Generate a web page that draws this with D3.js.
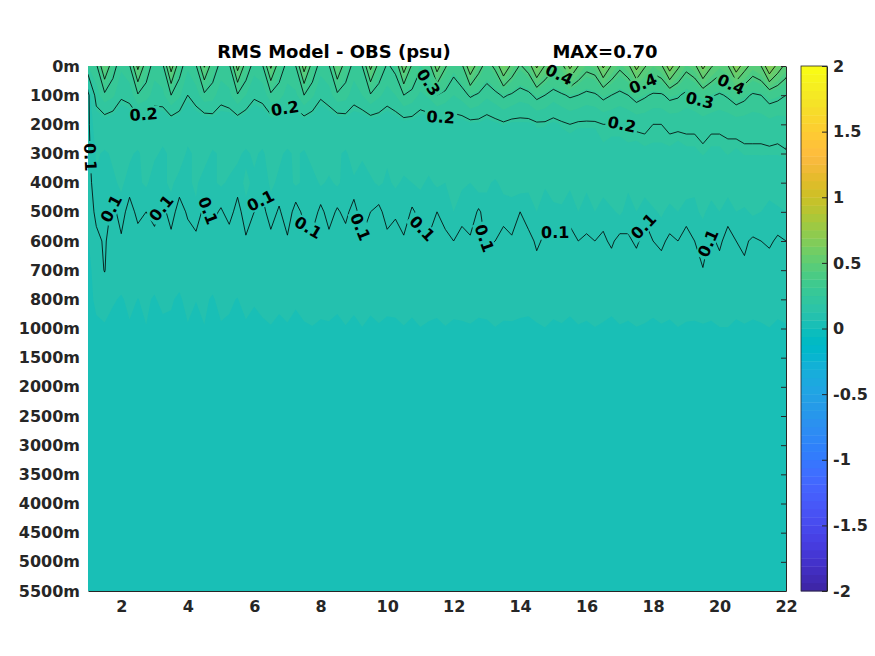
<!DOCTYPE html>
<html>
<head>
<meta charset="utf-8">
<script src="https://cdn.jsdelivr.net/npm/d3@7"></script>
<style>
  body { margin: 0; background: #fff; }
  text { font-family: "DejaVu Sans", sans-serif; font-weight: bold; }
</style>
</head>
<body>
<svg id="chart"></svg>
<script>
// time axis (years, quarter-year samples) and depth levels
const years = [1, 1.25, 1.5, 1.75, 2, 2.25, 2.5, 2.75, 3, 3.25, 3.5, 3.75, 4, 4.25, 4.5, 4.75, 5,
  5.25, 5.5, 5.75, 6, 6.25, 6.5, 6.75, 7, 7.25, 7.5, 7.75, 8, 8.25, 8.5, 8.75, 9, 9.25,
  9.5, 9.75, 10, 10.25, 10.5, 10.75, 11, 11.25, 11.5, 11.75, 12, 12.25, 12.5, 12.75, 13, 13.25, 13.5,
  13.75, 14, 14.25, 14.5, 14.75, 15, 15.25, 15.5, 15.75, 16, 16.25, 16.5, 16.75, 17, 17.25, 17.5, 17.75,
  18, 18.25, 18.5, 18.75, 19, 19.25, 19.5, 19.75, 20, 20.25, 20.5, 20.75, 21, 21.25, 21.5, 21.75, 22];
const depthLabels = ['0m', '100m', '200m', '300m', '400m', '500m', '600m', '700m', '800m', '1000m',
  '1500m', '2000m', '2500m', '3000m', '3500m', '4000m', '4500m', '5000m', '5500m'];
const xTicks = [2, 4, 6, 8, 10, 12, 14, 16, 18, 20, 22];
const colorTicks = [-2, -1.5, -1, -0.5, 0, 0.5, 1, 1.5, 2];
const contourLevels = [0.1, 0.2, 0.3, 0.4, 0.5, 0.6];

// RMS (psu) per depth level, one value per time sample
const rms0m = [0.25,
  0.28, 0.50, 0.33, 0.26, 0.29, 0.53, 0.34, 0.27, 0.28, 0.55, 0.33, 0.26, 0.29, 0.51, 0.34, 0.28, 0.28, 0.54, 0.35, 0.27,
  0.29, 0.52, 0.34, 0.28, 0.30, 0.55, 0.35, 0.27, 0.29, 0.50, 0.34, 0.28, 0.30, 0.53, 0.36, 0.29, 0.32, 0.56, 0.38, 0.31,
  0.35, 0.55, 0.41, 0.33, 0.38, 0.58, 0.44, 0.36, 0.42, 0.60, 0.47, 0.39, 0.44, 0.62, 0.49, 0.42, 0.46, 0.63, 0.50, 0.43,
  0.45, 0.62, 0.49, 0.42, 0.47, 0.64, 0.51, 0.44, 0.48, 0.66, 0.52, 0.43, 0.47, 0.63, 0.51, 0.45, 0.49, 0.67, 0.54, 0.46,
  0.50, 0.70, 0.56, 0.47];
const rms100m = [0.08,
  0.23, 0.28, 0.26, 0.21, 0.22, 0.29, 0.27, 0.23, 0.24, 0.30, 0.26, 0.20, 0.23, 0.28, 0.27, 0.22, 0.24, 0.29, 0.25, 0.21,
  0.22, 0.28, 0.27, 0.23, 0.24, 0.30, 0.26, 0.21, 0.23, 0.28, 0.27, 0.22, 0.25, 0.29, 0.26, 0.23, 0.25, 0.30, 0.28, 0.24,
  0.26, 0.30, 0.28, 0.25, 0.27, 0.31, 0.29, 0.26, 0.28, 0.31, 0.29, 0.27, 0.28, 0.32, 0.30, 0.27, 0.29, 0.31, 0.30, 0.28,
  0.29, 0.32, 0.30, 0.28, 0.30, 0.33, 0.31, 0.29, 0.29, 0.32, 0.31, 0.28, 0.30, 0.33, 0.31, 0.29, 0.31, 0.34, 0.32, 0.29,
  0.30, 0.33, 0.32, 0.30];
const rms200m = [0.09,
  0.15, 0.16, 0.15, 0.14, 0.15, 0.16, 0.16, 0.15, 0.14, 0.16, 0.15, 0.14, 0.15, 0.15, 0.16, 0.16, 0.15, 0.16, 0.15, 0.14,
  0.15, 0.16, 0.16, 0.15, 0.15, 0.16, 0.15, 0.14, 0.15, 0.15, 0.16, 0.16, 0.15, 0.16, 0.16, 0.15, 0.16, 0.17, 0.17, 0.16,
  0.16, 0.17, 0.17, 0.17, 0.17, 0.18, 0.18, 0.17, 0.18, 0.19, 0.18, 0.18, 0.18, 0.19, 0.19, 0.18, 0.19, 0.20, 0.19, 0.19,
  0.19, 0.20, 0.20, 0.20, 0.20, 0.21, 0.21, 0.20, 0.20, 0.21, 0.21, 0.21, 0.21, 0.22, 0.21, 0.21, 0.21, 0.22, 0.22, 0.22,
  0.22, 0.23, 0.22, 0.23];
const rms300m = [0.09,
  0.13, 0.12, 0.13, 0.14, 0.13, 0.12, 0.14, 0.13, 0.12, 0.13, 0.14, 0.12, 0.13, 0.14, 0.12, 0.13, 0.14, 0.13, 0.12, 0.13,
  0.12, 0.14, 0.13, 0.12, 0.13, 0.12, 0.14, 0.13, 0.14, 0.13, 0.12, 0.14, 0.13, 0.14, 0.13, 0.13, 0.14, 0.14, 0.15, 0.14,
  0.14, 0.15, 0.14, 0.15, 0.15, 0.15, 0.16, 0.15, 0.16, 0.15, 0.16, 0.16, 0.16, 0.17, 0.16, 0.16, 0.17, 0.16, 0.17, 0.17,
  0.17, 0.18, 0.17, 0.17, 0.18, 0.17, 0.18, 0.18, 0.18, 0.18, 0.17, 0.18, 0.18, 0.19, 0.18, 0.18, 0.19, 0.18, 0.19, 0.19,
  0.19, 0.19, 0.19, 0.195];
const rms400m = [0.085,
  0.12, 0.11, 0.12, 0.13, 0.115, 0.12, 0.13, 0.11, 0.12, 0.13, 0.115, 0.12, 0.13, 0.11, 0.12, 0.13, 0.12, 0.115, 0.13, 0.12,
  0.11, 0.13, 0.12, 0.115, 0.13, 0.12, 0.11, 0.13, 0.12, 0.13, 0.115, 0.12, 0.11, 0.12, 0.13, 0.12, 0.13, 0.12, 0.125, 0.13,
  0.12, 0.13, 0.125, 0.13, 0.13, 0.125, 0.14, 0.13, 0.12, 0.135, 0.13, 0.14, 0.13, 0.14, 0.13, 0.135, 0.14, 0.13, 0.14, 0.13,
  0.135, 0.14, 0.15, 0.14, 0.13, 0.14, 0.145, 0.15, 0.14, 0.15, 0.14, 0.145, 0.13, 0.15, 0.14, 0.15, 0.14, 0.145, 0.15, 0.14,
  0.15, 0.14, 0.145, 0.15];
const rms500m = [0.075,
  0.11, 0.12, 0.09, 0.115, 0.085, 0.11, 0.10, 0.12, 0.09, 0.115, 0.085, 0.105, 0.12, 0.09, 0.11, 0.095, 0.115, 0.085, 0.12, 0.10,
  0.09, 0.115, 0.095, 0.12, 0.085, 0.11, 0.12, 0.09, 0.115, 0.095, 0.11, 0.085, 0.12, 0.10, 0.09, 0.115, 0.105, 0.12, 0.095, 0.11,
  0.12, 0.10, 0.115, 0.125, 0.11, 0.12, 0.095, 0.115, 0.125, 0.11, 0.12, 0.10, 0.115, 0.125, 0.105, 0.12, 0.12, 0.11, 0.125, 0.115,
  0.125, 0.11, 0.12, 0.13, 0.115, 0.125, 0.105, 0.12, 0.13, 0.115, 0.125, 0.11, 0.12, 0.13, 0.115, 0.125, 0.11, 0.125, 0.12, 0.13,
  0.125, 0.115, 0.12, 0.125];
const rms600m = [0.06,
  0.09, 0.105, 0.08, 0.095, 0.075, 0.085, 0.09, 0.08, 0.085, 0.09, 0.075, 0.085, 0.09, 0.08, 0.085, 0.075, 0.08, 0.075, 0.095, 0.085,
  0.085, 0.09, 0.08, 0.095, 0.075, 0.085, 0.09, 0.08, 0.09, 0.08, 0.085, 0.075, 0.095, 0.085, 0.08, 0.09, 0.085, 0.095, 0.08, 0.09,
  0.095, 0.085, 0.09, 0.10, 0.09, 0.095, 0.085, 0.105, 0.10, 0.09, 0.095, 0.085, 0.09, 0.105, 0.095, 0.09, 0.095, 0.09, 0.10, 0.095,
  0.10, 0.095, 0.105, 0.09, 0.095, 0.105, 0.09, 0.10, 0.105, 0.095, 0.10, 0.09, 0.10, 0.11, 0.095, 0.105, 0.09, 0.10, 0.105, 0.095,
  0.10, 0.105, 0.095, 0.10];
const rms700m = [0.05,
  0.08, 0.102, 0.07, 0.075, 0.07, 0.075, 0.07, 0.075, 0.075, 0.07, 0.07, 0.075, 0.07, 0.075, 0.075, 0.07, 0.075, 0.07, 0.075, 0.07,
  0.07, 0.075, 0.07, 0.075, 0.075, 0.07, 0.075, 0.07, 0.07, 0.075, 0.075, 0.07, 0.075, 0.08, 0.07, 0.075, 0.08, 0.075, 0.08, 0.075,
  0.08, 0.075, 0.08, 0.085, 0.08, 0.085, 0.08, 0.085, 0.085, 0.08, 0.085, 0.08, 0.085, 0.09, 0.085, 0.08, 0.085, 0.08, 0.085, 0.09,
  0.085, 0.09, 0.085, 0.08, 0.09, 0.085, 0.08, 0.085, 0.09, 0.085, 0.09, 0.085, 0.09, 0.099, 0.085, 0.09, 0.085, 0.09, 0.095, 0.085,
  0.09, 0.085, 0.09, 0.085];
const rms800m = [0.05,
  0.07, 0.072, 0.065, 0.06, 0.068, 0.062, 0.066, 0.06, 0.07, 0.064, 0.06, 0.068, 0.063, 0.066, 0.06, 0.07, 0.064, 0.062, 0.068, 0.065,
  0.07, 0.066, 0.068, 0.072, 0.066, 0.07, 0.068, 0.072, 0.07, 0.068, 0.074, 0.07, 0.072, 0.068, 0.074, 0.07, 0.072, 0.075, 0.07, 0.072,
  0.07, 0.074, 0.068, 0.072, 0.075, 0.07, 0.072, 0.068, 0.072, 0.075, 0.07, 0.074, 0.07, 0.072, 0.075, 0.07, 0.074, 0.07, 0.072, 0.075,
  0.072, 0.075, 0.07, 0.072, 0.075, 0.07, 0.074, 0.072, 0.07, 0.075, 0.072, 0.074, 0.072, 0.07, 0.075, 0.072, 0.074, 0.072, 0.07, 0.075,
  0.072, 0.075, 0.072, 0.07];
const rms1000m = [0.05,
  0.056, 0.06, 0.055, 0.058, 0.06, 0.056, 0.062, 0.057, 0.055, 0.06, 0.058, 0.061, 0.057, 0.062, 0.056, 0.06, 0.061, 0.057, 0.06, 0.055,
  0.058, 0.062, 0.057, 0.06, 0.056, 0.06, 0.062, 0.058, 0.06, 0.057, 0.061, 0.056, 0.062, 0.058, 0.06, 0.057, 0.057, 0.061, 0.058, 0.062,
  0.06, 0.056, 0.062, 0.058, 0.058, 0.061, 0.057, 0.06, 0.062, 0.058, 0.06, 0.056, 0.057, 0.06, 0.062, 0.059, 0.06, 0.057, 0.061, 0.058,
  0.062, 0.059, 0.057, 0.061, 0.058, 0.062, 0.06, 0.057, 0.061, 0.057, 0.062, 0.059, 0.059, 0.061, 0.058, 0.062, 0.062, 0.058, 0.061, 0.057,
  0.06, 0.062, 0.058, 0.061];
const rms1500m = [
  0.042, 0.042, 0.042, 0.042, 0.042, 0.042, 0.042, 0.042, 0.042, 0.042, 0.042, 0.042, 0.042, 0.042, 0.042, 0.042, 0.042,
  0.042, 0.042, 0.042, 0.042, 0.042, 0.042, 0.042, 0.042, 0.042, 0.042, 0.042, 0.042, 0.042, 0.042, 0.042, 0.042, 0.042,
  0.042, 0.042, 0.042, 0.042, 0.042, 0.042, 0.042, 0.042, 0.042, 0.042, 0.042, 0.042, 0.042, 0.042, 0.042, 0.042, 0.042,
  0.042, 0.042, 0.042, 0.042, 0.042, 0.042, 0.042, 0.042, 0.042, 0.042, 0.042, 0.042, 0.042, 0.042, 0.042, 0.042, 0.042,
  0.042, 0.042, 0.042, 0.042, 0.042, 0.042, 0.042, 0.042, 0.042, 0.042, 0.042, 0.042, 0.042, 0.042, 0.042, 0.042, 0.042];
const rms2000m = [
  0.036, 0.036, 0.036, 0.036, 0.036, 0.036, 0.036, 0.036, 0.036, 0.036, 0.036, 0.036, 0.036, 0.036, 0.036, 0.036, 0.036,
  0.036, 0.036, 0.036, 0.036, 0.036, 0.036, 0.036, 0.036, 0.036, 0.036, 0.036, 0.036, 0.036, 0.036, 0.036, 0.036, 0.036,
  0.036, 0.036, 0.036, 0.036, 0.036, 0.036, 0.036, 0.036, 0.036, 0.036, 0.036, 0.036, 0.036, 0.036, 0.036, 0.036, 0.036,
  0.036, 0.036, 0.036, 0.036, 0.036, 0.036, 0.036, 0.036, 0.036, 0.036, 0.036, 0.036, 0.036, 0.036, 0.036, 0.036, 0.036,
  0.036, 0.036, 0.036, 0.036, 0.036, 0.036, 0.036, 0.036, 0.036, 0.036, 0.036, 0.036, 0.036, 0.036, 0.036, 0.036, 0.036];
const rms2500m = [
  0.032, 0.032, 0.032, 0.032, 0.032, 0.032, 0.032, 0.032, 0.032, 0.032, 0.032, 0.032, 0.032, 0.032, 0.032, 0.032, 0.032,
  0.032, 0.032, 0.032, 0.032, 0.032, 0.032, 0.032, 0.032, 0.032, 0.032, 0.032, 0.032, 0.032, 0.032, 0.032, 0.032, 0.032,
  0.032, 0.032, 0.032, 0.032, 0.032, 0.032, 0.032, 0.032, 0.032, 0.032, 0.032, 0.032, 0.032, 0.032, 0.032, 0.032, 0.032,
  0.032, 0.032, 0.032, 0.032, 0.032, 0.032, 0.032, 0.032, 0.032, 0.032, 0.032, 0.032, 0.032, 0.032, 0.032, 0.032, 0.032,
  0.032, 0.032, 0.032, 0.032, 0.032, 0.032, 0.032, 0.032, 0.032, 0.032, 0.032, 0.032, 0.032, 0.032, 0.032, 0.032, 0.032];
const rms3000m = [
  0.03, 0.03, 0.03, 0.03, 0.03, 0.03, 0.03, 0.03, 0.03, 0.03, 0.03, 0.03, 0.03, 0.03, 0.03, 0.03, 0.03,
  0.03, 0.03, 0.03, 0.03, 0.03, 0.03, 0.03, 0.03, 0.03, 0.03, 0.03, 0.03, 0.03, 0.03, 0.03, 0.03, 0.03,
  0.03, 0.03, 0.03, 0.03, 0.03, 0.03, 0.03, 0.03, 0.03, 0.03, 0.03, 0.03, 0.03, 0.03, 0.03, 0.03, 0.03,
  0.03, 0.03, 0.03, 0.03, 0.03, 0.03, 0.03, 0.03, 0.03, 0.03, 0.03, 0.03, 0.03, 0.03, 0.03, 0.03, 0.03,
  0.03, 0.03, 0.03, 0.03, 0.03, 0.03, 0.03, 0.03, 0.03, 0.03, 0.03, 0.03, 0.03, 0.03, 0.03, 0.03, 0.03];
const rms3500m = [
  0.028, 0.028, 0.028, 0.028, 0.028, 0.028, 0.028, 0.028, 0.028, 0.028, 0.028, 0.028, 0.028, 0.028, 0.028, 0.028, 0.028,
  0.028, 0.028, 0.028, 0.028, 0.028, 0.028, 0.028, 0.028, 0.028, 0.028, 0.028, 0.028, 0.028, 0.028, 0.028, 0.028, 0.028,
  0.028, 0.028, 0.028, 0.028, 0.028, 0.028, 0.028, 0.028, 0.028, 0.028, 0.028, 0.028, 0.028, 0.028, 0.028, 0.028, 0.028,
  0.028, 0.028, 0.028, 0.028, 0.028, 0.028, 0.028, 0.028, 0.028, 0.028, 0.028, 0.028, 0.028, 0.028, 0.028, 0.028, 0.028,
  0.028, 0.028, 0.028, 0.028, 0.028, 0.028, 0.028, 0.028, 0.028, 0.028, 0.028, 0.028, 0.028, 0.028, 0.028, 0.028, 0.028];
const rms4000m = [
  0.026, 0.026, 0.026, 0.026, 0.026, 0.026, 0.026, 0.026, 0.026, 0.026, 0.026, 0.026, 0.026, 0.026, 0.026, 0.026, 0.026,
  0.026, 0.026, 0.026, 0.026, 0.026, 0.026, 0.026, 0.026, 0.026, 0.026, 0.026, 0.026, 0.026, 0.026, 0.026, 0.026, 0.026,
  0.026, 0.026, 0.026, 0.026, 0.026, 0.026, 0.026, 0.026, 0.026, 0.026, 0.026, 0.026, 0.026, 0.026, 0.026, 0.026, 0.026,
  0.026, 0.026, 0.026, 0.026, 0.026, 0.026, 0.026, 0.026, 0.026, 0.026, 0.026, 0.026, 0.026, 0.026, 0.026, 0.026, 0.026,
  0.026, 0.026, 0.026, 0.026, 0.026, 0.026, 0.026, 0.026, 0.026, 0.026, 0.026, 0.026, 0.026, 0.026, 0.026, 0.026, 0.026];
const rms4500m = [
  0.025, 0.025, 0.025, 0.025, 0.025, 0.025, 0.025, 0.025, 0.025, 0.025, 0.025, 0.025, 0.025, 0.025, 0.025, 0.025, 0.025,
  0.025, 0.025, 0.025, 0.025, 0.025, 0.025, 0.025, 0.025, 0.025, 0.025, 0.025, 0.025, 0.025, 0.025, 0.025, 0.025, 0.025,
  0.025, 0.025, 0.025, 0.025, 0.025, 0.025, 0.025, 0.025, 0.025, 0.025, 0.025, 0.025, 0.025, 0.025, 0.025, 0.025, 0.025,
  0.025, 0.025, 0.025, 0.025, 0.025, 0.025, 0.025, 0.025, 0.025, 0.025, 0.025, 0.025, 0.025, 0.025, 0.025, 0.025, 0.025,
  0.025, 0.025, 0.025, 0.025, 0.025, 0.025, 0.025, 0.025, 0.025, 0.025, 0.025, 0.025, 0.025, 0.025, 0.025, 0.025, 0.025];
const rms5000m = [
  0.024, 0.024, 0.024, 0.024, 0.024, 0.024, 0.024, 0.024, 0.024, 0.024, 0.024, 0.024, 0.024, 0.024, 0.024, 0.024, 0.024,
  0.024, 0.024, 0.024, 0.024, 0.024, 0.024, 0.024, 0.024, 0.024, 0.024, 0.024, 0.024, 0.024, 0.024, 0.024, 0.024, 0.024,
  0.024, 0.024, 0.024, 0.024, 0.024, 0.024, 0.024, 0.024, 0.024, 0.024, 0.024, 0.024, 0.024, 0.024, 0.024, 0.024, 0.024,
  0.024, 0.024, 0.024, 0.024, 0.024, 0.024, 0.024, 0.024, 0.024, 0.024, 0.024, 0.024, 0.024, 0.024, 0.024, 0.024, 0.024,
  0.024, 0.024, 0.024, 0.024, 0.024, 0.024, 0.024, 0.024, 0.024, 0.024, 0.024, 0.024, 0.024, 0.024, 0.024, 0.024, 0.024];
const rms5500m = [
  0.022, 0.022, 0.022, 0.022, 0.022, 0.022, 0.022, 0.022, 0.022, 0.022, 0.022, 0.022, 0.022, 0.022, 0.022, 0.022, 0.022,
  0.022, 0.022, 0.022, 0.022, 0.022, 0.022, 0.022, 0.022, 0.022, 0.022, 0.022, 0.022, 0.022, 0.022, 0.022, 0.022, 0.022,
  0.022, 0.022, 0.022, 0.022, 0.022, 0.022, 0.022, 0.022, 0.022, 0.022, 0.022, 0.022, 0.022, 0.022, 0.022, 0.022, 0.022,
  0.022, 0.022, 0.022, 0.022, 0.022, 0.022, 0.022, 0.022, 0.022, 0.022, 0.022, 0.022, 0.022, 0.022, 0.022, 0.022, 0.022,
  0.022, 0.022, 0.022, 0.022, 0.022, 0.022, 0.022, 0.022, 0.022, 0.022, 0.022, 0.022, 0.022, 0.022, 0.022, 0.022, 0.022];

const grid = [rms0m, rms100m, rms200m, rms300m, rms400m, rms500m, rms600m, rms700m, rms800m, rms1000m,
  rms1500m, rms2000m, rms2500m, rms3000m, rms3500m, rms4000m, rms4500m, rms5000m, rms5500m];
grid.forEach((row, i) => {
  if (row.length !== years.length) throw new Error(depthLabels[i] + ' row has ' + row.length + ' values');
});

// parula colormap, 64 entries
const parula = [
  [0.2422, 0.1504, 0.6603], [0.2504, 0.1650, 0.7076], [0.2578, 0.1818, 0.7511], [0.2647, 0.1978, 0.7952],
  [0.2706, 0.2147, 0.8364], [0.2751, 0.2342, 0.8710], [0.2783, 0.2559, 0.8991], [0.2803, 0.2782, 0.9221],
  [0.2813, 0.3006, 0.9414], [0.2810, 0.3228, 0.9579], [0.2795, 0.3447, 0.9717], [0.2760, 0.3667, 0.9829],
  [0.2699, 0.3892, 0.9906], [0.2602, 0.4123, 0.9952], [0.2440, 0.4358, 0.9988], [0.2206, 0.4603, 0.9973],
  [0.1963, 0.4847, 0.9892], [0.1834, 0.5074, 0.9798], [0.1786, 0.5289, 0.9682], [0.1764, 0.5499, 0.9520],
  [0.1687, 0.5703, 0.9359], [0.1540, 0.5902, 0.9218], [0.1460, 0.6091, 0.9079], [0.1380, 0.6276, 0.8973],
  [0.1248, 0.6459, 0.8883], [0.1113, 0.6635, 0.8763], [0.0952, 0.6798, 0.8598], [0.0689, 0.6948, 0.8394],
  [0.0297, 0.7082, 0.8163], [0.0036, 0.7203, 0.7917], [0.0067, 0.7312, 0.7660], [0.0433, 0.7411, 0.7394],
  [0.0964, 0.7500, 0.7120], [0.1408, 0.7584, 0.6842], [0.1717, 0.7670, 0.6554], [0.1938, 0.7758, 0.6251],
  [0.2161, 0.7843, 0.5923], [0.2470, 0.7918, 0.5567], [0.2906, 0.7973, 0.5188], [0.3406, 0.8008, 0.4789],
  [0.3909, 0.8029, 0.4354], [0.4456, 0.8024, 0.3909], [0.5044, 0.7993, 0.3480], [0.5616, 0.7942, 0.3045],
  [0.6174, 0.7876, 0.2612], [0.6720, 0.7793, 0.2227], [0.7242, 0.7698, 0.1910], [0.7738, 0.7598, 0.1646],
  [0.8203, 0.7498, 0.1535], [0.8634, 0.7406, 0.1596], [0.9035, 0.7330, 0.1774], [0.9393, 0.7288, 0.2100],
  [0.9728, 0.7298, 0.2394], [0.9956, 0.7434, 0.2371], [0.9970, 0.7659, 0.2199], [0.9952, 0.7893, 0.2028],
  [0.9892, 0.8136, 0.1885], [0.9786, 0.8386, 0.1766], [0.9676, 0.8639, 0.1643], [0.9610, 0.8890, 0.1537],
  [0.9597, 0.9135, 0.1423], [0.9628, 0.9373, 0.1265], [0.9691, 0.9606, 0.1064], [0.9769, 0.9839, 0.0805]
].map(c => d3.rgb(c[0] * 255, c[1] * 255, c[2] * 255).formatHex());

const width = 875, height = 656;
const plotL = 88, plotR = 786, plotT = 66, plotB = 591;
const cmin = -2, cmax = 2, nColors = parula.length;
const bandW = (cmax - cmin) / nColors;
const bandEdges = d3.range(nColors + 1).map(i => cmin + i * bandW);

const svg = d3.select('#chart').attr('width', width).attr('height', height);

const x = d3.scaleLinear().domain([years[0], years[years.length - 1]]).range([plotL, plotR]);
const yPos = d3.scalePoint().domain(depthLabels).range([plotT, plotB]);
const yIdx = d3.scaleLinear().domain([0, depthLabels.length - 1]).range([plotT, plotB]);

// grid coords from d3.contours (sample i sits at i + 0.5) -> pixels
const step = years[1] - years[0];
const toPx = (gx, gy) => [x(years[0] + (gx - 0.5) * step), yIdx(gy - 0.5)];
const path = d3.geoPath(d3.geoTransform({
  point(a, b) { const p = toPx(a, b); this.stream.point(p[0], p[1]); }
}));

const values = grid.flat();
const vmin = d3.min(values), vmax = d3.max(values);
const contourGen = d3.contours().size([years.length, depthLabels.length]);

svg.append('clipPath').attr('id', 'plotClip')
  .append('rect').attr('x', plotL).attr('y', plotT)
  .attr('width', plotR - plotL).attr('height', plotB - plotT);

// filled colour bands, one per colormap entry
const iMin = Math.floor((vmin - cmin) / bandW);
const iMax = Math.min(nColors - 1, Math.floor((vmax - cmin) / bandW));
const fillTh = d3.range(iMin, iMax + 1).map(i => (i === iMin ? vmin - 1 : bandEdges[i]));
const fills = contourGen.thresholds(fillTh)(values);

const plot = svg.append('g').attr('clip-path', 'url(#plotClip)');
plot.selectAll('path.band')
  .data(fills)
  .join('path')
  .attr('class', 'band')
  .attr('d', path)
  .attr('fill', (d, k) => parula[iMin + k]);

// contour lines
const lines = contourGen.thresholds(contourLevels)(values);
const mask = svg.append('mask').attr('id', 'labelMask')
  .attr('maskUnits', 'userSpaceOnUse')
  .attr('x', 0).attr('y', 0).attr('width', width).attr('height', height);
mask.append('rect').attr('width', width).attr('height', height).attr('fill', '#fff');

plot.append('g').attr('mask', 'url(#labelMask)')
  .selectAll('path.cline')
  .data(lines)
  .join('path')
  .attr('class', 'cline')
  .attr('d', path)
  .attr('fill', 'none')
  .attr('stroke', '#000')
  .attr('stroke-width', 0.8);

// inline contour labels placed along each line (0.4 before 0.3 so both fit near the top)
const labelSpacing = { '0.1': 155, '0.2': 190, '0.4': 120, '0.3': 170 };
const labelG = svg.append('g');
const placed = [];
const inside = p => p[0] > plotL + 1 && p[0] < plotR - 1 && p[1] > plotT + 1 && p[1] < plotB - 1;

Object.keys(labelSpacing).forEach(key => {
  const c = lines.find(l => l.value.toFixed(1) === key);
  if (!c) return;
  const spacing = labelSpacing[key];
  const runs = [];
  c.coordinates.forEach(poly => poly.forEach(ring => {
    let run = [];
    ring.forEach(([a, b]) => {
      const p = toPx(a, b);
      if (inside(p)) run.push(p);
      else { if (run.length > 1) runs.push(run); run = []; }
    });
    if (run.length > 1) runs.push(run);
  }));
  runs.forEach(run => {
    const cum = [0];
    for (let i = 1; i < run.length; i++) {
      cum.push(cum[i - 1] + Math.hypot(run[i][0] - run[i - 1][0], run[i][1] - run[i - 1][1]));
    }
    const L = cum[cum.length - 1];
    if (L < 110) return;
    const at = s => {
      s = Math.max(0, Math.min(L, s));
      let i = d3.bisectLeft(cum, s);
      if (i < 1) i = 1;
      const t = (s - cum[i - 1]) / ((cum[i] - cum[i - 1]) || 1);
      return [run[i - 1][0] + t * (run[i][0] - run[i - 1][0]), run[i - 1][1] + t * (run[i][1] - run[i - 1][1])];
    };
    for (let s = Math.min(spacing * 0.4, L / 2); s <= L - 15; s += spacing) {
      const p = at(s);
      if (placed.some(q => Math.hypot(q[0] - p[0], q[1] - p[1]) < 28)) continue;
      const p0 = at(s - 15), p1 = at(s + 15);
      let ang = Math.atan2(p1[1] - p0[1], p1[0] - p0[0]) * 180 / Math.PI;
      if (ang > 90) ang -= 180;
      if (ang < -90) ang += 180;
      placed.push(p);
      const tf = `translate(${p[0]},${p[1]}) rotate(${ang})`;
      const txt = labelG.append('text')
        .attr('transform', tf)
        .attr('text-anchor', 'middle')
        .attr('dy', '0.36em')
        .attr('font-size', 16)
        .attr('fill', '#000')
        .text(key);
      const tw = txt.node().getComputedTextLength();
      mask.append('rect')
        .attr('transform', tf)
        .attr('x', -tw / 2 - 2).attr('y', -7.5)
        .attr('width', tw + 4).attr('height', 15)
        .attr('fill', '#000');
    }
  });
});

// axes
const styleAxis = g => {
  g.attr('font-size', null).attr('font-family', null);
  g.selectAll('text')
    .attr('font-size', 16)
    .attr('fill', '#262626');
  g.selectAll('line, path').attr('stroke', '#262626');
};

svg.append('g')
  .attr('transform', `translate(0,${plotB})`)
  .call(d3.axisBottom(x).tickValues(xTicks).tickSizeInner(0).tickSizeOuter(0).tickPadding(10))
  .call(styleAxis);

svg.append('g')
  .attr('transform', `translate(${plotL},0)`)
  .call(d3.axisLeft(yPos).tickSize(0).tickPadding(8))
  .call(g => g.select('.domain').remove())
  .call(styleAxis);

svg.append('g')
  .attr('transform', `translate(${plotR},0)`)
  .call(d3.axisRight(yPos).tickSizeInner(-5).tickSizeOuter(0).tickFormat(''))
  .call(styleAxis);

// colorbar
const cbL = 801, cbW = 26;
const cb = d3.scaleLinear().domain([cmin, cmax]).range([plotB, plotT]);
svg.append('g').selectAll('rect')
  .data(parula)
  .join('rect')
  .attr('x', cbL)
  .attr('width', cbW)
  .attr('y', (d, i) => cb(bandEdges[i + 1]))
  .attr('height', (d, i) => cb(bandEdges[i]) - cb(bandEdges[i + 1]) + 0.4)
  .attr('fill', d => d);
svg.append('rect')
  .attr('x', cbL).attr('y', plotT)
  .attr('width', cbW).attr('height', plotB - plotT)
  .attr('fill', 'none').attr('stroke', '#262626').attr('stroke-width', 0.8);
svg.append('g')
  .attr('transform', `translate(${cbL + cbW},0)`)
  .call(d3.axisRight(cb).tickValues(colorTicks).tickSizeInner(-5).tickSizeOuter(0)
    .tickPadding(6).tickFormat(d => String(d)))
  .call(styleAxis);

// title
svg.append('text')
  .attr('x', 334).attr('y', 58)
  .attr('text-anchor', 'middle')
  .attr('font-size', 18)
  .attr('fill', '#000')
  .text('RMS Model - OBS (psu)');
svg.append('text')
  .attr('x', 605).attr('y', 58)
  .attr('text-anchor', 'middle')
  .attr('font-size', 18)
  .attr('fill', '#000')
  .text('MAX=' + vmax.toFixed(2));
</script>
</body>
</html>
